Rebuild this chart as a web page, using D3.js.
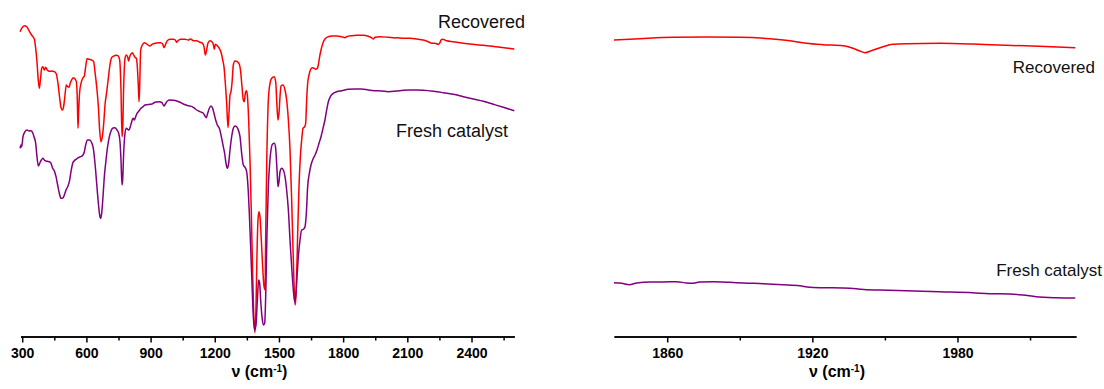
<!DOCTYPE html>
<html>
<head>
<meta charset="utf-8">
<script src="https://cdn.jsdelivr.net/npm/d3@7"></script>
<style>
	body { margin: 0; background: #fff; }
	svg { display: block; font-family: "Liberation Sans", Arial, sans-serif; }
	.axis path, .axis line { stroke: #000; stroke-width: 1.5; }
	.axis text { font-size: 14px; font-weight: bold; fill: #000; }
	.axis-label { font-size: 16px; font-weight: bold; }
	.spec { fill: none; stroke-width: 1.5; stroke-linejoin: round; }
</style>
</head>
<body>
<div id="irSvg"></div>
<script>
//Series names and colours
var seriesNames = ["Recovered", "Fresh catalyst"];
var seriesColors = ["#ff0000", "#800080"];

//Ticks
var leftTicks = [300, 600, 900, 1200, 1500, 1800, 2100, 2400];
var leftMinorTicks = [450, 750, 1050, 1350, 1650, 1950, 2250, 2550];
var rightTicks = [1860, 1920, 1980];
var rightMinorTicks = [1890, 1950, 2010];

//Spectra: [wavenumber (cm-1), transmittance (a.u.)]
var recoveredLeft = [
	[290,304.3],[297.5,307.7],[310,310.3],[321,309.3],[332,305.3],[344,301],[357,296.7],[363,287.7],
	[369,274.3],[375,256],[380,247.7],[385,256],[391,267.7],[397,269.3],[403,266],[410,268.7],
	[417,266],[427,264.7],[438,265],[450,264.3],[459.5,262],[466,254.3],[473.5,241],[481,228.7],
	[487.5,226],[494,230],[500,241],[506,251],[512.5,249.3],[519,248.7],[525,253.3],[531,256],
	[539,258.3],[547,257],[553,254.3],[557.6,236],[560.8,207.7],[564,226],[568.6,244.3],[575,252.7],
	[582.6,257.7],[590.4,260],[596.6,269.3],[603,277.3],[612,276.7],[624.6,276],[634,274.3],[640,264.3],
	[648,249.3],[656,229.3],[662,206],[668,194.3],[674.5,199.3],[681,212.7],[687,231],[695,244.3],
	[702.5,257.7],[710,271],[718,278.3],[727.5,280],[741.5,280.7],[749,280],[755.5,276],[761.7,246],
	[766.4,199.3],[769.5,206],[774.2,249.3],[780.4,277.7],[786.7,281],[793,278.7],[797.6,275],[802.3,279.3],
	[808.5,282],[814.7,283.3],[821,281],[827,278.7],[833.4,277.7],[838,269.3],[842.8,249.3],[845.9,234.3],
	[849,249.3],[853.7,286],[861.5,291],[870.8,293.3],[878.5,292.7],[888,291],[897,290],[906.6,291.7],
	[920.6,292.7],[936,293.3],[947,293.3],[956.4,292],[962.7,288.3],[969,291],[978,295.3],[990.7,296.7],
	[1006,296.7],[1015.6,296],[1022,293.7],[1028,295.3],[1040.6,296.7],[1061,296.7],[1076,296],[1087,297],
	[1100,295.3],[1115,295.3],[1131,293.7],[1143,292.7],[1149.6,289.3],[1156,281],[1160.5,284.3],[1168,292.7],
	[1177.7,295.3],[1187,294.3],[1193,291.7],[1197.9,286.7],[1202.6,291.7],[1212,290.3],[1221,287.7],[1230.7,282.7],
	[1237,276],[1243,269.3],[1249.4,252.7],[1255.6,232.7],[1261.8,208.3],[1266.5,222.7],[1271.2,241],[1275.8,244.3],
	[1280.5,252.7],[1286.7,271],[1294.5,275],[1305.4,274.3],[1314.8,271.7],[1321,264.3],[1327.2,249.3],[1333.5,236],
	[1338.2,234.3],[1342.8,242.7],[1347.5,245.3],[1352.2,241],[1358.4,216],[1364.6,176],[1370.9,122.7],[1377.1,62.7],
	[1383.3,16],[1388,3.3],[1392.7,29.3],[1397.4,82.7],[1402,116],[1406.7,124.3],[1411.4,119.3],[1417.6,96],
	[1423.8,69.3],[1430,50],[1435,46],[1438,100],[1442.6,169.3],[1450.4,236],[1458.2,252.7],[1466,257.7],
	[1477,259.3],[1484.7,254.3],[1490.9,229.3],[1495.6,216],[1500.2,222.7],[1504.9,239.3],[1509.6,250],[1519,251],
	[1528.3,246],[1536,236],[1544,216],[1551.7,186],[1559.4,136],[1567.2,76],[1573.5,36],[1576.6,31],
	[1581.3,49.3],[1587.5,102.7],[1593.7,149.3],[1600,179.3],[1606.2,196],[1612.4,207.7],[1620.2,209.3],[1624.9,212.7],
	[1629.5,236],[1634.2,252.7],[1640.5,261],[1648.2,266.7],[1656,268.3],[1665.4,267.7],[1671.6,266.7],[1679.4,267.7],
	[1684,271],[1688.8,277.7],[1696.5,286],[1706,293.3],[1715,297],[1731,299.3],[1746,300],[1770,300],
	[1793,299.3],[1808.7,298.3],[1816.5,299.3],[1840,300.3],[1863,300.7],[1894,300.7],[1918,299.7],[1930,298.7],
	[1941,297],[1949,298.7],[1972,299.3],[2011,298.7],[2042,298],[2050,298.3],[2081,297.7],[2112.5,297.7],
	[2143.6,297],[2174.8,296],[2198,294.3],[2213.8,292.7],[2229.3,292.7],[2244.9,291.7],[2252.7,293.3],[2257.4,296],
	[2265,296.7],[2284,295.3],[2315,294.3],[2346,293.3],[2393,292],[2440,291],[2486,290],[2533,288.7],
	[2572,287.7],[2600,287]
];

var freshLeft = [
	[290,187.7],[294.3,191],[297.5,189.3],[303.7,199.3],[313,204.3],[322.4,206],[331.7,205],[341,205.3],
	[349,203.3],[355,199.3],[363,192.7],[369,179.3],[375.4,170],[381.6,172.7],[389.4,176],[397,177.7],
	[406.5,175.3],[416,174.7],[427,174.3],[434.6,172.7],[442.4,167.7],[450,165.3],[458,159.3],[465.7,151],
	[473.5,142.7],[481.3,137.7],[489,137.7],[497,141],[504.7,146],[512.5,149.3],[520.3,154.3],[528,164.3],
	[536,172.7],[543.6,175.3],[551.4,176.7],[562.3,178.3],[573,179.3],[584,181],[590.4,184.3],[596.6,191],
	[604.4,196],[615.3,196],[624.6,193.3],[632.4,187.7],[640.2,172.7],[648,152.7],[656,132.7],[662,121],
	[666.7,117.7],[671.4,122.7],[677.6,139.3],[683.8,159.3],[690,172.7],[698,187.7],[705.7,197.7],[715,205],
	[724.4,208],[733.7,208.3],[743,206],[750.8,202.7],[757,194.3],[761.7,176],[766.4,151],[769.5,156],
	[774.2,182.7],[780.4,202.7],[786.7,207.7],[793,206.7],[799,206],[805.4,209.3],[811.6,214.3],[817.8,217.7],
	[824,216],[830.3,219.3],[836.5,222.7],[842.8,224.3],[849,226],[855.2,227.7],[861.5,228.7],[867.7,230],
	[874,231],[906.6,232],[916,233.3],[928.4,234],[941,234.3],[953.3,233.3],[962.7,230],[969,232],
	[978.3,235],[990.7,236],[1006.3,235.7],[1022,235],[1037.5,233.7],[1053,232],[1068.6,230.7],[1084,230],
	[1100,228.7],[1115.4,226],[1131,224.3],[1146.5,222.7],[1154.3,220],[1160.5,218.3],[1166.8,222.7],[1174.6,227.7],
	[1182.4,230],[1190,227.7],[1196.4,222.7],[1204.2,216],[1212,211],[1221.3,207.7],[1227.5,202.7],[1233.8,196],
	[1240,189.3],[1246.2,182.7],[1252.5,172.7],[1258.7,167.7],[1265,172.7],[1271.2,186],[1279,199.3],[1286.7,207.7],
	[1294.5,210],[1302.3,209.3],[1310,206],[1318,199.3],[1325.7,182.7],[1333.5,171],[1341.3,168.7],[1349,164.3],
	[1355.3,149.3],[1361.5,122.7],[1367.8,89.3],[1374,52.7],[1380.2,19.3],[1386.5,6],[1392.7,11],[1399,36],
	[1405,56],[1409.8,52.7],[1414.5,36],[1420.7,19.3],[1427,11],[1433.2,12.7],[1439.5,52.7],[1444,102.7],
	[1450.4,149.3],[1456.6,172.7],[1462.8,186],[1470.6,192],[1478.4,192.7],[1484.7,187.7],[1490.9,166],[1495.6,149.3],
	[1500.2,154.3],[1505,164.3],[1512.7,167.7],[1520.5,166],[1528.3,159.3],[1536,146],[1544,126],[1551.7,96],
	[1559.4,69.3],[1567.2,46],[1573.5,34.3],[1578,39.3],[1584.4,59.3],[1590.6,79.3],[1598.4,96],[1606.2,106],
	[1614,106.7],[1621.8,109.3],[1628,122.7],[1634.2,149.3],[1642,162.7],[1649.8,171],[1660.7,177.7],[1668.5,181],
	[1677.8,186],[1687.2,192.7],[1696.5,199.3],[1706,207.7],[1715,216],[1723,226],[1730.8,234.3],[1740,239.3],
	[1754,242.7],[1770,244.3],[1793,245.3],[1824,246.7],[1855.5,247],[1886.6,247],[1918,246],[1949,245.3],
	[1980,245],[2011,244.3],[2050,245],[2081,245.7],[2112.5,246],[2143.6,246],[2175,245.7],[2221.5,244.7],
	[2268,243.3],[2315,241.7],[2362,239.3],[2408.5,237],[2455,234.7],[2502,231.7],[2548.7,228.7],[2600,225.3]
];

var recoveredRight = [
	[1838,296],[1848.7,297.3],[1862.5,298.7],[1876.3,299],[1890,298.7],[1902.4,297.3],[1910.7,295.3],[1917.5,292.7],
	[1924.4,291.3],[1932.7,290.3],[1936.8,287.7],[1939.6,285],[1941.8,283.3],[1944.4,285.3],[1949.2,289.3],[1953.3,291.7],
	[1958.8,292.3],[1972.6,292.7],[1986.3,292],[2000.1,290.7],[2013.9,289.7],[2028.7,288.3]
];

var freshRight = [
	[1838,53.3],[1841.2,52.7],[1844.3,51.3],[1847.4,53],[1852.9,54],[1858.4,54],[1863.9,54.3],[1868,53],
	[1870.1,52.7],[1873.5,54],[1879,54.3],[1885.9,53.7],[1891.4,53],[1899.7,52.3],[1907.9,51.3],[1914.8,50.3],
	[1918.9,48.7],[1924.4,48.3],[1932.7,48],[1938.2,47.3],[1942.3,46.3],[1947.8,46],[1958.8,45.3],[1972.6,44.3],
	[1986.3,43.3],[1993.2,42.3],[2001.5,42],[2007,41],[2012.5,39.3],[2020.7,38.3],[2028.7,38]
];

//SVG setup
var width = 1104;
var height = 389;
var axisY = 336.5;

var svg = d3.select('body #irSvg')
	.append('svg')
	.attr('width', width)
	.attr('height', height);

//Transmittance scale, shared by both panels (no y axis drawn)
var y = d3.scaleLinear()
	.domain([0, 336])
	.range([336, 0]);

var drawPanel = function(opts) {
	var x = d3.scaleLinear()
		.domain(opts.domain)
		.range(opts.range);

	var g = svg.append("g");

	//minor ticks
	g.append("g")
		.attr("class", "axis")
		.attr("transform", "translate(0," + axisY + ")")
		.call(d3.axisBottom(x).tickValues(opts.minor).tickSize(4).tickSizeOuter(0).tickFormat(""));

	//major ticks with labels
	g.append("g")
		.attr("class", "axis")
		.attr("transform", "translate(0," + axisY + ")")
		.call(d3.axisBottom(x).tickValues(opts.ticks).tickSize(6).tickSizeOuter(0).tickPadding(6).tickFormat(d3.format("d")));

	//axis title
	var mid = (opts.range[0] + opts.range[1]) / 2 - 8;
	var title = g.append("text")
		.attr("class", "axis-label")
		.attr("x", mid)
		.attr("y", 377)
		.attr("text-anchor", "middle");
	title.append("tspan").text("ν (cm");
	title.append("tspan").attr("font-size", "10px").attr("dy", -5).text("-1");
	title.append("tspan").attr("dy", 5).text(")");

	var line = d3.line()
		.x(function(d) { return x(d[0]); })
		.y(function(d) { return y(d[1]); })
		.curve(d3.curveMonotoneX);

	opts.series.forEach(function(s, i) {
		g.append("path")
			.datum(s)
			.attr("class", "spec")
			.attr("stroke", seriesColors[i])
			.attr("d", line);
	});

	//labels
	opts.labels.forEach(function(l, i) {
		g.append("text")
			.attr("x", l[0])
			.attr("y", l[1])
			.attr("text-anchor", "end")
			.attr("font-size", opts.labelSize)
			.attr("fill", "#111")
			.text(seriesNames[i]);
	});
};

drawPanel({
	domain: [292, 2600],
	range: [20.5, 514.3],
	ticks: leftTicks,
	minor: leftMinorTicks,
	series: [recoveredLeft, freshLeft],
	labels: [[525, 28], [508, 137]],
	labelSize: "18px"
});

drawPanel({
	domain: [1838, 2029],
	range: [614, 1076],
	ticks: rightTicks,
	minor: rightMinorTicks,
	series: [recoveredRight, freshRight],
	labels: [[1095, 73], [1102, 276]],
	labelSize: "17px"
});
</script>
</body>
</html>
